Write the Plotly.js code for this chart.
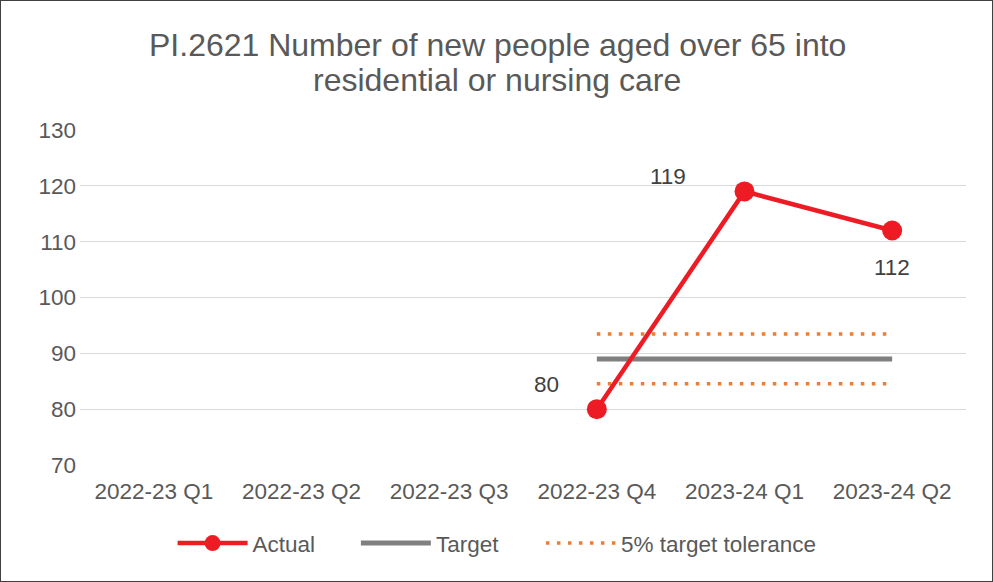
<!DOCTYPE html>
<html>
<head>
<meta charset="utf-8">
<script src="https://cdn.plot.ly/plotly-3.0.1.min.js"></script>
<style>
html,body{margin:0;padding:0;background:#fff;}
#wrap{width:993px;height:582px;box-sizing:border-box;border:1px solid #404040;overflow:hidden;}
#chart{width:991px;height:580px;}
</style>
</head>
<body>
<div id="wrap"><div id="chart"></div></div>
<script>
var categories = ["2022-23 Q1","2022-23 Q2","2022-23 Q3","2022-23 Q4","2023-24 Q1","2023-24 Q2"];
var actual = [null, null, null, 80, 119, 112];
var target = [null, null, null, 89, 89, 89];
var tolUpper = [null, null, null, 93.45, 93.45, 93.45];
var tolLower = [null, null, null, 84.55, 84.55, 84.55];
var seriesNames = ["Actual", "Target", "5% target tolerance"];
var titleLines = ["PI.2621 Number of new people aged over 65 into", "residential or nursing care"];

var font = "Liberation Sans, Arial, sans-serif";
var grey = "#595959";
var txtSize = 22.5;
var nb = "\u00A0";

var tActual = {x: categories, y: actual, name: seriesNames[0] + nb.repeat(5) + "\u2009", type: "scatter", mode: "lines+markers",
   line: {color: "#ED1C24", width: 4.5}, marker: {color: "#ED1C24", size: 20}, hoverinfo: "skip", legendrank: 1};
var tTarget = {x: categories, y: target, name: seriesNames[1] + nb.repeat(6), type: "scatter", mode: "lines",
   line: {color: "#808080", width: 5}, hoverinfo: "skip", legendrank: 2};
var tUp = {x: categories, y: tolUpper, name: seriesNames[2], type: "scatter", mode: "lines",
   line: {color: "#ED7D31", width: 3.5, dash: "3.5px,7.5px"}, hoverinfo: "skip", legendgroup: "tol", legendrank: 3};
var tLo = {x: categories, y: tolLower, name: seriesNames[2], type: "scatter", mode: "lines",
   line: {color: "#ED7D31", width: 3.5, dash: "3.5px,7.5px"}, hoverinfo: "skip", legendgroup: "tol", showlegend: false};
var traces = [tTarget, tUp, tLo, tActual];

var labelShifts = {3: [-50, 25], 4: [-77, 15], 5: [0, -37]};
var annotations = [];
actual.forEach(function(v, i){
  if (v === null) return;
  annotations.push({x: categories[i], y: v, xref: "x", yref: "y", text: String(v),
    showarrow: false, xshift: labelShifts[i][0], yshift: labelShifts[i][1],
    font: {family: font, size: txtSize, color: "#404040"}});
});
var titleY = [1.2537, 1.1493];
titleLines.forEach(function(t, i){
  annotations.push({x: 0.471, xref: "paper", y: titleY[i], yref: "paper", text: t,
    showarrow: false, xanchor: "center", yanchor: "middle",
    font: {family: font, size: 32, color: grey}});
});

var layout = {
  width: 991, height: 580,
  margin: {l: 79, r: 26, t: 129, b: 116},
  paper_bgcolor: "#fff", plot_bgcolor: "#fff",
  xaxis: {type: "category", categoryorder: "array", categoryarray: categories, range: [-0.5, 5.5],
    showgrid: false, zeroline: false, showline: false, ticks: "", ticklabelstandoff: 10,
    tickfont: {family: font, size: txtSize, color: grey}, fixedrange: true},
  yaxis: {range: [70, 130], dtick: 10, tick0: 70, showgrid: true, gridcolor: "#D9D9D9", gridwidth: 1.3,
    zeroline: false, showline: false, ticks: "", ticklabelstandoff: 3,
    tickfont: {family: font, size: txtSize, color: grey}, fixedrange: true},
  legend: {orientation: "h", x: 0.1045, xanchor: "left", y: -0.17, yanchor: "top",
    font: {family: font, size: txtSize, color: grey}, itemwidth: 70, traceorder: "normal"},
  annotations: annotations,
  showlegend: true
};

Plotly.newPlot("chart", traces, layout, {displayModeBar: false, staticPlot: true});
</script>
</body>
</html>
